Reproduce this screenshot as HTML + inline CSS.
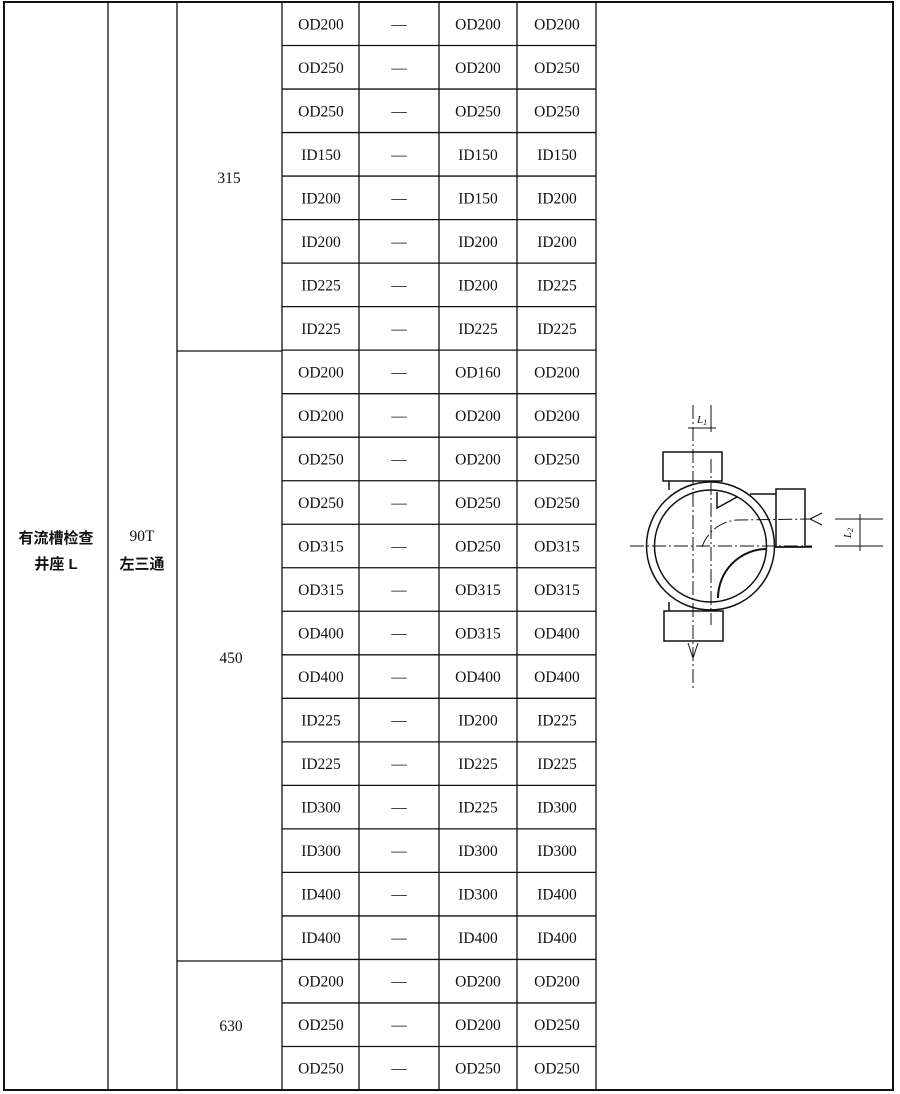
<!DOCTYPE html>
<html><head><meta charset="utf-8"><style>
html,body{margin:0;padding:0;background:#fff;}
svg{display:block;}
.t{font-family:"Liberation Serif",serif;font-size:15.5px;fill:#111;text-anchor:middle;}
.c{font-family:"Liberation Sans","Noto Sans CJK SC",sans-serif;font-size:15px;font-weight:bold;fill:#111;text-anchor:middle;}
</style></head><body>
<svg width="900" height="1094" viewBox="0 0 900 1094" xmlns="http://www.w3.org/2000/svg">
<g stroke="#111" fill="none">
<rect x="4" y="2" width="889" height="1088" stroke-width="2"/>
<line x1="108" y1="2" x2="108" y2="1090" stroke-width="1.3"/>
<line x1="177" y1="2" x2="177" y2="1090" stroke-width="1.3"/>
<line x1="282" y1="2" x2="282" y2="1090" stroke-width="1.3"/>
<line x1="359" y1="2" x2="359" y2="1090" stroke-width="1.3"/>
<line x1="439" y1="2" x2="439" y2="1090" stroke-width="1.3"/>
<line x1="517" y1="2" x2="517" y2="1090" stroke-width="1.3"/>
<line x1="596" y1="2" x2="596" y2="1090" stroke-width="1.3"/>
<line x1="177" y1="351" x2="282" y2="351" stroke-width="1.3"/>
<line x1="177" y1="961" x2="282" y2="961" stroke-width="1.3"/>
<g id="rows" stroke-width="1.3"></g>
</g>
<g id="hl" stroke="#111" stroke-width="1.3"></g>
<g id="txt"></g>
<text class="t" x="229" y="183">315</text>
<text class="t" x="231" y="663">450</text>
<text class="t" x="231" y="1031">630</text>
<text class="c" x="56" y="543">有流槽检查</text>
<text class="c" x="56" y="569">井座 L</text>
<text class="t" x="142" y="541">90T</text>
<text class="c" x="142" y="569">左三通</text>

<!-- diagram -->
<g stroke="#111" fill="none" stroke-width="1.5">
<circle cx="710.5" cy="546" r="64"/>
<circle cx="710.5" cy="546" r="56"/>
<rect x="663" y="452" width="59" height="29" fill="#fff"/>
<rect x="664" y="611" width="59" height="30" fill="#fff"/>
<line x1="669" y1="481" x2="669" y2="490"/>
<line x1="669" y1="602" x2="669" y2="611"/>
<line x1="750" y1="494" x2="776" y2="494"/>
<rect x="776" y="489" width="29" height="58"/>
<line x1="774" y1="547" x2="812" y2="547"/>
<path d="M767 549 A49 49 0 0 0 718 598" stroke-width="2"/>
<polyline points="717,492 717,508 737,497"/>
</g>
<g stroke="#111" fill="none" stroke-width="1">
<line x1="630" y1="546" x2="812" y2="546" stroke-dasharray="14 3 2 3"/>
<line x1="835" y1="546" x2="883" y2="546"/>
<line x1="835" y1="519" x2="883" y2="519"/>
<line x1="693" y1="405" x2="693" y2="690" stroke-dasharray="14 3 2 3"/>
<line x1="711" y1="405" x2="711" y2="432"/>
<line x1="711" y1="459" x2="711" y2="625" stroke-dasharray="14 3 2 3"/>
<line x1="688" y1="428" x2="716" y2="428"/>
<path d="M702 547 A40 40 0 0 1 737 520 L812 519" stroke-dasharray="14 3 2 3"/>
<polyline points="822,513 810,519 822,525"/>
<line x1="860" y1="514" x2="860" y2="551"/>
<polyline points="688,643 693,658 698,643"/>
</g>
<text x="702" y="423" font-family="Liberation Serif,serif" font-style="italic" font-size="11" text-anchor="middle" fill="#111">L<tspan font-size="8" dy="2">1</tspan></text>
<text transform="translate(851,533) rotate(-90)" font-family="Liberation Serif,serif" font-style="italic" font-size="11" text-anchor="middle" fill="#111">L<tspan font-size="8" dy="2">2</tspan></text>

<script>
var d=[["OD200","OD200","OD200"],["OD250","OD200","OD250"],["OD250","OD250","OD250"],["ID150","ID150","ID150"],["ID200","ID150","ID200"],["ID200","ID200","ID200"],["ID225","ID200","ID225"],["ID225","ID225","ID225"],
["OD200","OD160","OD200"],["OD200","OD200","OD200"],["OD250","OD200","OD250"],["OD250","OD250","OD250"],["OD315","OD250","OD315"],["OD315","OD315","OD315"],["OD400","OD315","OD400"],["OD400","OD400","OD400"],["ID225","ID200","ID225"],["ID225","ID225","ID225"],["ID300","ID225","ID300"],["ID300","ID300","ID300"],["ID400","ID300","ID400"],["ID400","ID400","ID400"],
["OD200","OD200","OD200"],["OD250","OD200","OD250"],["OD250","OD250","OD250"]];
var ns="http://www.w3.org/2000/svg",hl=document.getElementById("hl"),tx=document.getElementById("txt");
var top0=2,h=(1090-2)/25;
for(var i=0;i<25;i++){
 var y=top0+h*(i+1);
 if(i<24){var l=document.createElementNS(ns,"line");l.setAttribute("x1",282);l.setAttribute("x2",596);l.setAttribute("y1",y);l.setAttribute("y2",y);hl.appendChild(l);}
 var cy=top0+h*i+h/2+5.5;
 var vals=[d[i][0],"—",d[i][1],d[i][2]],xs=[321,399,478,557];
 for(var j=0;j<4;j++){var t=document.createElementNS(ns,"text");t.setAttribute("class","t");t.setAttribute("x",xs[j]);t.setAttribute("y",cy);t.textContent=vals[j];tx.appendChild(t);}
}
</script>
</svg>
</body></html>
